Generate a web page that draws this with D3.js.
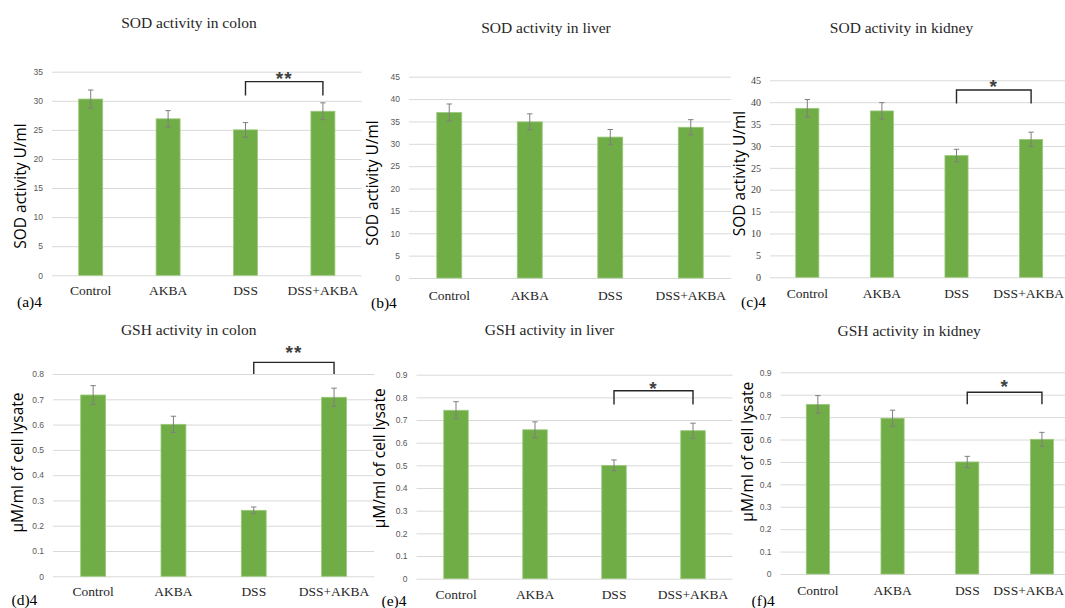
<!DOCTYPE html>
<html>
<head>
<meta charset="utf-8">
<script src="https://cdn.jsdelivr.net/npm/d3@7"></script>
<style>
  html, body { margin: 0; padding: 0; background: #ffffff; }
  svg { display: block; }
</style>
</head>
<body>
<script>
// Treatment groups shared by every panel
const categories = ["Control", "AKBA", "DSS", "DSS+AKBA"];

// SOD activity (U/ml): means and error bar half-widths
const sodColon     = [30.3, 26.9, 25.0, 28.2];
const sodColonErr  = [1.55, 1.4, 1.25, 1.45];
const sodLiver     = [37.0, 34.9, 31.5, 33.7];
const sodLiverErr  = [1.9, 1.8, 1.7, 1.7];
const sodKidney    = [38.6, 38.0, 27.8, 31.5];
const sodKidneyErr = [2.0, 1.9, 1.45, 1.65];

// GSH activity (µM/ml of cell lysate): means and error bar half-widths
const gshColon     = [0.717, 0.601, 0.261, 0.708];
const gshColonErr  = [0.037, 0.032, 0.013, 0.036];
const gshLiver     = [0.743, 0.657, 0.500, 0.653];
const gshLiverErr  = [0.038, 0.035, 0.024, 0.033];
const gshKidney    = [0.757, 0.695, 0.500, 0.601];
const gshKidneyErr = [0.039, 0.036, 0.025, 0.031];

// Y axis tick values
const sodColonTicks = [0, 5, 10, 15, 20, 25, 30, 35];
const sodOrganTicks = [0, 5, 10, 15, 20, 25, 30, 35, 40, 45];
const gshColonTicks = [0, 0.1, 0.2, 0.3, 0.4, 0.5, 0.6, 0.7, 0.8];
const gshOrganTicks = [0, 0.1, 0.2, 0.3, 0.4, 0.5, 0.6, 0.7, 0.8, 0.9];

// Significance marks between DSS and DSS+AKBA
const sigColon = "**";
const sigLiver = "*";
const sigKidney = "*";

const SOD_LABEL = "SOD activity U/ml";
const GSH_LABEL = "\u00B5M/ml of cell lysate";

// Panel layout
const panels = [
  { tag: "(a)4", title: "SOD activity in colon", values: sodColon, errs: sodColonErr, ticks: sodColonTicks,
    max: 35, left: 52, step: 77.4, top: 71.7, bottom: 275.3, tickFont: "sans",
    catPad: 10, titleX: 189, titleY: 27.5, yLabel: SOD_LABEL, yLabelX: 26, yLabelY: 186,
    tagX: 17, tagY: 307, sig: sigColon, bracket: [33.3, 30.9], sigY: 74 },
  { tag: "(b)4", title: "SOD activity in liver", values: sodLiver, errs: sodLiverErr, ticks: sodOrganTicks,
    max: 45, left: 409, step: 80.5, top: 76.7, bottom: 278, tickFont: "sans",
    catPad: 12, titleX: 546, titleY: 32.5, yLabel: SOD_LABEL, yLabelX: 378, yLabelY: 183,
    tagX: 371, tagY: 308, sig: null },
  { tag: "(c)4", title: "SOD activity in kidney", values: sodKidney, errs: sodKidneyErr, ticks: sodOrganTicks,
    max: 45, left: 770, step: 74.6, top: 80.3, bottom: 277.3, tickFont: "serif",
    catPad: 11.5, titleX: 901.5, titleY: 32.5, yLabel: SOD_LABEL, yLabelX: 745, yLabelY: 173.5,
    tagX: 741, tagY: 307, sig: sigKidney, bracket: [42.8, 39.7], sigY: 82 },
  { tag: "(d)4", title: "GSH activity in colon", values: gshColon, errs: gshColonErr, ticks: gshColonTicks,
    max: 0.8, left: 53, step: 80.3, top: 374, bottom: 576.3, tickFont: "sans",
    catPad: 10, titleX: 188.7, titleY: 334.5, yLabel: GSH_LABEL, yLabelX: 23, yLabelY: 462.5,
    tagX: 11.5, tagY: 605, sig: sigColon, bracket: [0.846, 0.80], sigY: 347.5 },
  { tag: "(e)4", title: "GSH activity in liver", values: gshLiver, errs: gshLiverErr, ticks: gshOrganTicks,
    max: 0.9, left: 416.5, step: 79, top: 374.7, bottom: 578.7, tickFont: "sans",
    catPad: 11.2, titleX: 549.5, titleY: 334.5, yLabel: GSH_LABEL, yLabelX: 385, yLabelY: 458.3,
    tagX: 381.5, tagY: 606, sig: sigLiver, bracket: [0.829, 0.769], sigY: 384 },
  { tag: "(f)4", title: "GSH activity in kidney", values: gshKidney, errs: gshKidneyErr, ticks: gshOrganTicks,
    max: 0.9, left: 780.5, step: 74.7, top: 372.3, bottom: 574, tickFont: "sans",
    catPad: 11, titleX: 909.2, titleY: 336, yLabel: GSH_LABEL, yLabelX: 753, yLabelY: 451.7,
    tagX: 751.5, tagY: 606, sig: sigKidney, bracket: [0.811, 0.757], sigY: 382 }
];

const WIDTH = 1065, HEIGHT = 608;
const SERIF = "'Liberation Serif', 'Times New Roman', serif";
const SANS = "'Liberation Sans', Arial, sans-serif";
const LABEL_SANS = "'Open Sans', 'Noto Sans', sans-serif";

const svg = d3.select("body").append("svg")
  .attr("width", WIDTH)
  .attr("height", HEIGHT);

panels.forEach(p => {
  const g = svg.append("g");
  const right = p.left + 4 * p.step;

  const x = d3.scaleBand()
    .domain(categories)
    .range([p.left, right])
    .paddingInner(0.69)
    .paddingOuter(0.345);

  const y = d3.scaleLinear()
    .domain([0, p.max])
    .range([p.bottom, p.top]);

  // Value axis with horizontal gridlines
  const yAxis = g.append("g")
    .attr("transform", `translate(${p.left},0)`)
    .call(d3.axisLeft(y)
      .tickValues(p.ticks)
      .tickFormat(d3.format("~g"))
      .tickSize(-(right - p.left))
      .tickPadding(9));
  yAxis.select(".domain").remove();
  yAxis.selectAll(".tick line").attr("stroke", "#d9d9d9").attr("stroke-width", 1);
  yAxis.selectAll(".tick text")
    .attr("fill", p.tickFont === "serif" ? "#404040" : "#595959")
    .style("font-family", p.tickFont === "serif" ? SERIF : SANS)
    .style("font-size", p.tickFont === "serif" ? "10px" : "8.5px");

  // Bars
  g.selectAll("rect.bar")
    .data(p.values)
    .join("rect")
    .attr("class", "bar")
    .attr("x", (d, i) => x(categories[i]))
    .attr("y", d => y(d))
    .attr("width", x.bandwidth())
    .attr("height", d => y(0) - y(d))
    .attr("fill", "#70ad47")
    .attr("stroke", "#9cc97d")
    .attr("stroke-width", 0.8);

  // Error bars
  const cap = 2.7;
  const eb = g.selectAll("g.err")
    .data(p.values.map((v, i) => ({ v, e: p.errs[i], c: categories[i] })))
    .join("g")
    .attr("class", "err")
    .attr("stroke", "#7f7f7f")
    .attr("stroke-width", 1);
  eb.append("line")
    .attr("x1", d => x(d.c) + x.bandwidth() / 2)
    .attr("x2", d => x(d.c) + x.bandwidth() / 2)
    .attr("y1", d => y(d.v + d.e))
    .attr("y2", d => y(d.v - d.e));
  eb.append("line")
    .attr("x1", d => x(d.c) + x.bandwidth() / 2 - cap)
    .attr("x2", d => x(d.c) + x.bandwidth() / 2 + cap)
    .attr("y1", d => y(d.v + d.e))
    .attr("y2", d => y(d.v + d.e));
  eb.append("line")
    .attr("x1", d => x(d.c) + x.bandwidth() / 2 - cap)
    .attr("x2", d => x(d.c) + x.bandwidth() / 2 + cap)
    .attr("y1", d => y(d.v - d.e))
    .attr("y2", d => y(d.v - d.e));

  // Category axis
  const xAxis = g.append("g")
    .attr("transform", `translate(0,${p.bottom})`)
    .call(d3.axisBottom(x).tickSize(0).tickPadding(p.catPad));
  xAxis.select(".domain").remove();
  xAxis.selectAll(".tick text")
    .attr("fill", "#262626")
    .style("font-family", SERIF)
    .style("font-size", "13.5px")
    .each(function (d) {
      // keep a label that would run past the page edge inside it
      const cx = x(d) + x.bandwidth() / 2;
      const w = this.getComputedTextLength();
      if (cx + w / 2 > WIDTH - 1) {
        d3.select(this).attr("text-anchor", "end").attr("x", WIDTH - 1 - cx);
      }
    });

  // Panel title
  g.append("text")
    .attr("x", p.titleX)
    .attr("y", p.titleY)
    .attr("text-anchor", "middle")
    .attr("fill", "#262626")
    .style("font-family", SERIF)
    .style("font-size", "15.5px")
    .text(p.title);

  // Y axis title
  g.append("text")
    .attr("transform", `translate(${p.yLabelX},${p.yLabelY}) rotate(-90)`)
    .attr("text-anchor", "middle")
    .attr("fill", "#000000")
    .style("font-family", LABEL_SANS)
    .style("font-size", "15.5px")
    .text(p.yLabel);

  // Panel tag
  g.append("text")
    .attr("x", p.tagX)
    .attr("y", p.tagY)
    .attr("fill", "#000000")
    .style("font-family", SERIF)
    .style("font-size", "15.5px")
    .text(p.tag);

  // Significance bracket between DSS and DSS+AKBA
  if (p.sig) {
    const x1 = x("DSS") + x.bandwidth() / 2;
    const x2 = x("DSS+AKBA") + x.bandwidth() / 2;
    const yb = y(p.bracket[0]);
    const yl = y(p.bracket[1]);
    g.append("path")
      .attr("d", `M${x1},${yl} V${yb} H${x2} V${yl}`)
      .attr("fill", "none")
      .attr("stroke", "#262626")
      .attr("stroke-width", 1.4);
    g.append("text")
      .attr("x", (x1 + x2) / 2)
      .attr("y", p.sigY + 11)
      .attr("text-anchor", "middle")
      .attr("fill", "#404040")
      .style("font-family", SANS)
      .style("font-weight", "bold")
      .style("font-size", "19px")
      .style("letter-spacing", "1px")
      .text(p.sig);
  }
});
</script>
</body>
</html>
